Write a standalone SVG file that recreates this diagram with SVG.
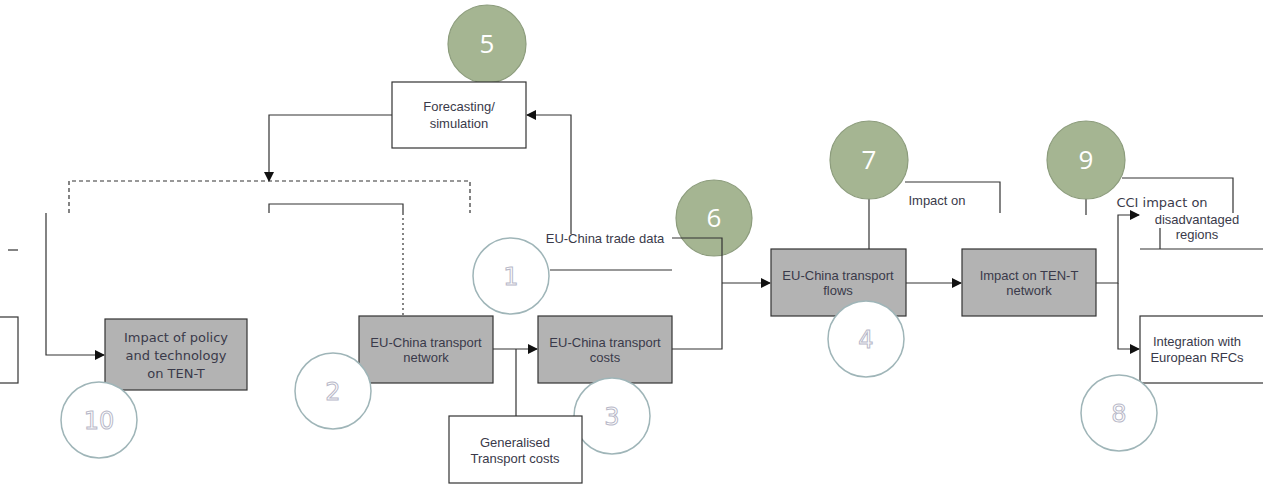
<svg xmlns="http://www.w3.org/2000/svg" width="1263" height="502" viewBox="0 0 1263 502">
<style>
.box{stroke:#333;stroke-width:1.2}
.g{fill:#b3b3b3}
.w{fill:#fff}
.t{font-family:"Liberation Sans",Arial,sans-serif;font-size:13px;fill:#3a3a4a;text-anchor:middle}
.tv{font-family:"DejaVu Sans",Verdana,sans-serif;font-size:13px;fill:#3a3a4a;text-anchor:middle}
.gc{fill:#a5b592;stroke:#8c9c7c;stroke-width:1.2}
.gn{font-family:"Open Sans","DejaVu Sans",sans-serif;font-size:26px;fill:#fff;text-anchor:middle}
.wc{fill:#fff;stroke:#9fb5b8;stroke-width:1.5}
.wn{font-family:"DejaVu Sans",sans-serif;font-size:24px;fill:#fff;stroke:#b8b8c8;stroke-width:1;text-anchor:middle}
.ln{fill:none;stroke:#333;stroke-width:1.2}
</style>
<defs>
<marker id="ah" markerWidth="10" markerHeight="10" refX="9" refY="5" orient="auto" markerUnits="userSpaceOnUse">
<path d="M0,0 L10,5 L0,10 z" fill="#111"/>
</marker>
</defs>
<rect width="1263" height="502" fill="#fff"/>

<g id="node-6"><circle class="gc" cx="714" cy="218" r="38"/><text class="gn" x="714" y="227">6</text></g>

<g id="connectors">
<path class="ln" d="M392,115 H269 V181" marker-end="url(#ah)"/>
<path class="ln" d="M571,234 V115 H527" marker-end="url(#ah)"/>
<path class="ln" d="M69,213 V181 H470 V213" stroke-dasharray="4,3"/>
<path class="ln" d="M269,213 V204 H403 V213"/>
<path class="ln" d="M403,213 V316" stroke-dasharray="2,3"/>
<path class="ln" d="M46,213 V355 H104" marker-end="url(#ah)"/>
<path class="ln" d="M8,250 H18"/>
<path class="ln" d="M493,349 H537" marker-end="url(#ah)"/>
<path class="ln" d="M516,416 V349"/>
<path class="ln" d="M672,238 H722 V349 H672"/>
<path class="ln" d="M722,283 H770" marker-end="url(#ah)"/>
<path class="ln" d="M550,270 H672"/>
<path class="ln" d="M906,283 H961" marker-end="url(#ah)"/>
<path class="ln" d="M869,199 V249"/>
<path class="ln" d="M1096,283 H1118 V215 H1139" marker-end="url(#ah)"/>
<path class="ln" d="M1118,283 V349 H1139" marker-end="url(#ah)"/>
<path class="ln" d="M1086,199 V215"/>
</g>

<g id="node-5"><circle class="gc" cx="487" cy="44" r="39"/><text class="gn" x="487" y="53">5</text></g>
<g id="node-forecasting"><rect class="box w" x="392" y="82" width="134" height="66"/><text class="t" x="459" y="111">Forecasting/</text><text class="t" x="459" y="128">simulation</text></g>

<g id="node-left"><rect class="box w" x="-2" y="317" width="20" height="66"/></g>
<g id="node-policy"><rect class="box g" x="105" y="319" width="142" height="71"/><text class="tv" x="176" y="342">Impact of policy</text><text class="tv" x="176" y="360">and technology</text><text class="tv" x="176" y="378">on TEN-T</text></g>
<g id="node-10"><circle class="wc" cx="99" cy="420" r="38"/><text class="wn" x="99" y="429">10</text></g>

<g id="node-network"><rect class="box g" x="359" y="316" width="134" height="67"/><text class="t" x="426" y="347">EU-China transport</text><text class="t" x="426" y="362">network</text></g>
<g id="node-2"><circle class="wc" cx="333" cy="391" r="38"/><text class="wn" x="333" y="400">2</text></g>

<g id="node-costs"><rect class="box g" x="538" y="316" width="134" height="67"/><text class="t" x="605" y="347">EU-China transport</text><text class="t" x="605" y="362">costs</text></g>
<g id="node-3"><circle class="wc" cx="612" cy="416" r="38"/><text class="wn" x="612" y="425">3</text></g>

<g id="node-generalised"><rect class="box w" x="449" y="416" width="133" height="67"/><text class="t" x="515" y="447">Generalised</text><text class="t" x="515" y="463">Transport costs</text></g>

<g id="node-tradedata"><text class="t" x="605" y="243">EU-China trade data</text></g>
<g id="node-1"><circle class="wc" cx="511" cy="276" r="38"/><text class="wn" x="511" y="285">1</text></g>

<g id="node-flows"><rect class="box g" x="771" y="249" width="135" height="67"/><text class="t" x="838" y="280">EU-China transport</text><text class="t" x="838" y="295">flows</text></g>
<g id="node-4"><circle class="wc" cx="866" cy="339" r="38"/><text class="wn" x="866" y="348">4</text></g>

<g id="node-tent"><rect class="box g" x="962" y="249" width="134" height="67"/><text class="t" x="1029" y="280">Impact on TEN-T</text><text class="t" x="1029" y="295">network</text></g>

<g id="node-impact"><path class="ln" d="M905,182 H1000 V213"/><text class="t" x="937" y="205">Impact on</text></g>
<g id="node-7"><circle class="gc" cx="869" cy="160" r="39"/><text class="gn" x="869" y="169">7</text></g>

<g id="node-cci"><path class="ln" d="M1122,178 H1233 V213"/><path class="ln" d="M1140,249 H1263 M1160,228 V249"/><text class="tv" x="1162" y="207">CCI impact on</text><text class="t" x="1197" y="224">disadvantaged</text><text class="t" x="1197" y="239">regions</text></g>
<g id="node-9"><circle class="gc" cx="1086" cy="160" r="39"/><text class="gn" x="1086" y="169">9</text></g>

<g id="node-rfc"><rect class="box w" x="1140" y="316" width="130" height="67"/><text class="t" x="1197" y="346">Integration with</text><text class="t" x="1197" y="362">European RFCs</text></g>
<g id="node-8"><circle class="wc" cx="1119" cy="413" r="38"/><text class="wn" x="1119" y="422">8</text></g>
</svg>
